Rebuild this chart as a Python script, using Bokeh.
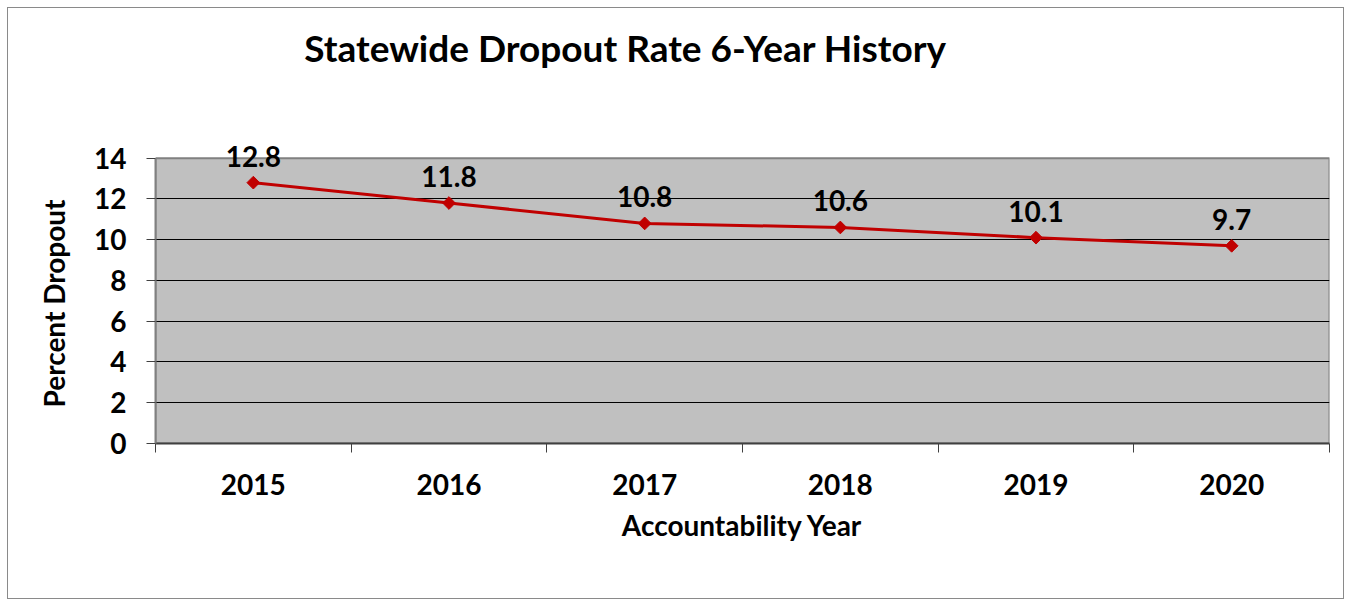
import math
from bokeh.plotting import figure
from bokeh.models import FixedTicker, Label, LabelSet, ColumnDataSource, Range1d, Title
from bokeh.embed import file_html
from bokeh.resources import INLINE
from bokeh.core.properties import value

# ---- data ----
years = ["2015", "2016", "2017", "2018", "2019", "2020"]
dropout = [12.8, 11.8, 10.8, 10.6, 10.1, 9.7]
y_ticks = [0, 2, 4, 6, 8, 10, 12, 14]
title_text = "Statewide Dropout Rate 6-Year History"
x_title = "Accountability Year"
y_title = "Percent Dropout"

FONT = "Lato"
positions = [i + 0.5 for i in range(len(years))]
src = ColumnDataSource(dict(x=positions, y=dropout,
                            label=[f"{v:.1f}" for v in dropout]))

y_max = max(y_ticks)
# frame extends above the grey plot area so the title and labels are not clipped
p = figure(width=1337, height=592, output_backend="svg", toolbar_location=None,
           x_range=Range1d(0, len(years)), y_range=Range1d(0, y_max * 433 / 284),
           min_border_left=147, min_border_right=16,
           min_border_top=0, min_border_bottom=157)

p.styles = {"border": "1px solid #8a8a8a", "box-sizing": "border-box",
            "margin": "7px 0 0 7px"}
p.background_fill_color = "white"
p.border_fill_color = "white"
p.outline_line_color = None

# grey plot area (drawn beneath the grid)
p.quad(left=[0], right=[len(years)], bottom=[0], top=[y_max],
       fill_color="#C0C0C0", line_color="#808080", line_width=2, level="image")

# grid
p.xgrid.visible = False
p.ygrid.ticker = FixedTicker(ticks=y_ticks[1:-1])
p.ygrid.grid_line_color = "black"
p.ygrid.grid_line_width = 1

# y axis
ya = p.yaxis[0]
ya.bounds = (0, y_max)
ya.ticker = FixedTicker(ticks=y_ticks)
ya.major_tick_out = 9
ya.major_tick_in = 0
ya.minor_tick_out = 0
ya.minor_tick_in = 0
ya.axis_line_color = "#808080"
ya.axis_line_width = 2
ya.major_tick_line_color = "#404040"
ya.major_label_text_font = FONT
ya.major_label_text_font_style = "bold"
ya.major_label_text_font_size = "28px"
ya.major_label_text_color = "black"
ya.major_label_standoff = 20

# y axis title, placed in the left panel so that it centres on the grey area
ytitle = Title(text=y_title, align="left", offset=36, standoff=42,
               text_font=FONT, text_font_style="bold",
               text_font_size="28px", text_color="black")
p.add_layout(ytitle, "left")

# x axis
xa = p.xaxis[0]
xa.ticker = FixedTicker(ticks=positions, minor_ticks=list(range(len(years) + 1)))
xa.major_label_overrides = {pos: yr for pos, yr in zip(positions, years)}
xa.major_tick_out = 0
xa.major_tick_in = 0
xa.minor_tick_out = 9
xa.minor_tick_in = 0
xa.minor_tick_line_color = "#404040"
xa.axis_line_color = "#404040"
xa.axis_line_width = 2
xa.major_label_text_font = FONT
xa.major_label_text_font_style = "bold"
xa.major_label_text_font_size = "28px"
xa.major_label_text_color = "black"
xa.major_label_standoff = 21
xa.axis_label = x_title
xa.axis_label_text_font = FONT
xa.axis_label_text_font_style = "bold"
xa.axis_label_text_font_size = "28px"
xa.axis_label_text_color = "black"
xa.axis_label_standoff = 10

# series
p.line("x", "y", source=src, line_color="#C00000", line_width=3)
p.scatter("x", "y", source=src, marker="square", angle=math.pi / 4,
          size=9, fill_color="#C00000", line_color="#C00000")

labels = LabelSet(x="x", y="y", text="label", source=src,
                  text_align="center", text_baseline="alphabetic", y_offset=16,
                  text_font=value(FONT), text_font_style="bold",
                  text_font_size="28px", text_color="black")
p.add_layout(labels)

title = Label(x=470, y=396, x_units="screen", y_units="screen", text=title_text,
              text_align="center", text_baseline="middle",
              text_font=FONT, text_font_style="bold",
              text_font_size="37px", text_color="black")
p.add_layout(title)

open("out.html", "w").write(file_html(p, INLINE))
